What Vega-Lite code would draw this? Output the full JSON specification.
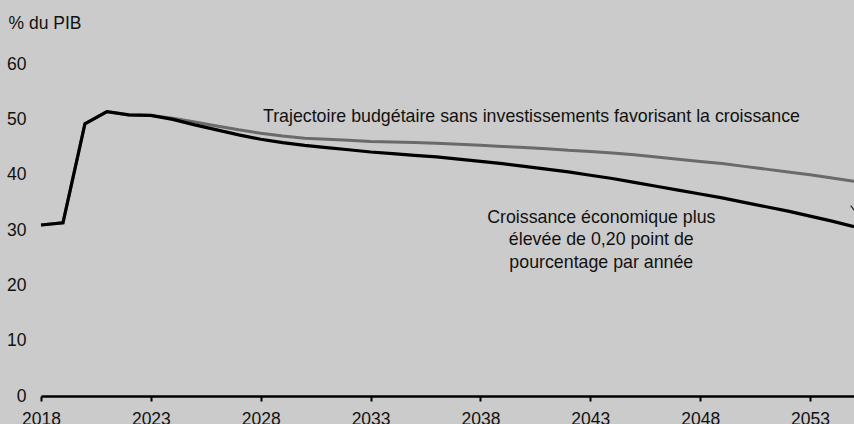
{
  "$schema": "https://vega.github.io/schema/vega-lite/v6.json",
  "width": 813,
  "height": 332,
  "autosize": {"type": "none"},
  "padding": {"left": 41, "top": 64, "right": 0, "bottom": 28},
  "background": "#cbcbcb",
  "config": {
    "view": {"stroke": null},
    "font": "Liberation Sans",
    "text": {"font": "Liberation Sans", "fontSize": 17.8, "color": "#111111"}
  },
  "datasets": {
    "lines": [
      {"year": 2018, "value": 30.9, "series": "croissance"},
      {"year": 2019, "value": 31.3, "series": "croissance"},
      {"year": 2020, "value": 49.2, "series": "croissance"},
      {"year": 2021, "value": 51.4, "series": "croissance"},
      {"year": 2022, "value": 50.8, "series": "croissance"},
      {"year": 2023, "value": 50.7, "series": "croissance"},
      {"year": 2024, "value": 50.0, "series": "croissance"},
      {"year": 2025, "value": 49.0, "series": "croissance"},
      {"year": 2026, "value": 48.1, "series": "croissance"},
      {"year": 2027, "value": 47.2, "series": "croissance"},
      {"year": 2028, "value": 46.4, "series": "croissance"},
      {"year": 2029, "value": 45.8, "series": "croissance"},
      {"year": 2030, "value": 45.3, "series": "croissance"},
      {"year": 2031, "value": 44.9, "series": "croissance"},
      {"year": 2032, "value": 44.5, "series": "croissance"},
      {"year": 2033, "value": 44.1, "series": "croissance"},
      {"year": 2034, "value": 43.8, "series": "croissance"},
      {"year": 2035, "value": 43.5, "series": "croissance"},
      {"year": 2036, "value": 43.2, "series": "croissance"},
      {"year": 2037, "value": 42.8, "series": "croissance"},
      {"year": 2038, "value": 42.4, "series": "croissance"},
      {"year": 2039, "value": 42.0, "series": "croissance"},
      {"year": 2040, "value": 41.5, "series": "croissance"},
      {"year": 2041, "value": 41.0, "series": "croissance"},
      {"year": 2042, "value": 40.5, "series": "croissance"},
      {"year": 2043, "value": 39.9, "series": "croissance"},
      {"year": 2044, "value": 39.3, "series": "croissance"},
      {"year": 2045, "value": 38.6, "series": "croissance"},
      {"year": 2046, "value": 37.9, "series": "croissance"},
      {"year": 2047, "value": 37.2, "series": "croissance"},
      {"year": 2048, "value": 36.5, "series": "croissance"},
      {"year": 2049, "value": 35.8, "series": "croissance"},
      {"year": 2050, "value": 35.0, "series": "croissance"},
      {"year": 2051, "value": 34.2, "series": "croissance"},
      {"year": 2052, "value": 33.4, "series": "croissance"},
      {"year": 2053, "value": 32.5, "series": "croissance"},
      {"year": 2054, "value": 31.6, "series": "croissance"},
      {"year": 2055, "value": 30.6, "series": "croissance"},
      {"year": 2018, "value": 30.9, "series": "sans"},
      {"year": 2019, "value": 31.3, "series": "sans"},
      {"year": 2020, "value": 49.2, "series": "sans"},
      {"year": 2021, "value": 51.4, "series": "sans"},
      {"year": 2022, "value": 50.8, "series": "sans"},
      {"year": 2023, "value": 50.7, "series": "sans"},
      {"year": 2024, "value": 50.2, "series": "sans"},
      {"year": 2025, "value": 49.5, "series": "sans"},
      {"year": 2026, "value": 48.8, "series": "sans"},
      {"year": 2027, "value": 48.1, "series": "sans"},
      {"year": 2028, "value": 47.5, "series": "sans"},
      {"year": 2029, "value": 47.0, "series": "sans"},
      {"year": 2030, "value": 46.6, "series": "sans"},
      {"year": 2031, "value": 46.4, "series": "sans"},
      {"year": 2032, "value": 46.2, "series": "sans"},
      {"year": 2033, "value": 46.0, "series": "sans"},
      {"year": 2034, "value": 45.9, "series": "sans"},
      {"year": 2035, "value": 45.8, "series": "sans"},
      {"year": 2036, "value": 45.7, "series": "sans"},
      {"year": 2037, "value": 45.5, "series": "sans"},
      {"year": 2038, "value": 45.3, "series": "sans"},
      {"year": 2039, "value": 45.1, "series": "sans"},
      {"year": 2040, "value": 44.9, "series": "sans"},
      {"year": 2041, "value": 44.7, "series": "sans"},
      {"year": 2042, "value": 44.4, "series": "sans"},
      {"year": 2043, "value": 44.2, "series": "sans"},
      {"year": 2044, "value": 43.9, "series": "sans"},
      {"year": 2045, "value": 43.6, "series": "sans"},
      {"year": 2046, "value": 43.2, "series": "sans"},
      {"year": 2047, "value": 42.8, "series": "sans"},
      {"year": 2048, "value": 42.4, "series": "sans"},
      {"year": 2049, "value": 42.0, "series": "sans"},
      {"year": 2050, "value": 41.5, "series": "sans"},
      {"year": 2051, "value": 41.0, "series": "sans"},
      {"year": 2052, "value": 40.5, "series": "sans"},
      {"year": 2053, "value": 40.0, "series": "sans"},
      {"year": 2054, "value": 39.4, "series": "sans"},
      {"year": 2055, "value": 38.8, "series": "sans"}
    ],
    "labelLeft": [
      {"year": 2028.1, "value": 50.5, "label": "Trajectoire budgétaire sans investissements favorisant la croissance"}
    ],
    "labelCenter": [
      {"year": 2043.5, "value": 32.2, "label": "Croissance économique plus"},
      {"year": 2043.5, "value": 28.15, "label": "élevée de 0,20 point de"},
      {"year": 2043.5, "value": 24.1, "label": "pourcentage par année"}
    ],
    "leader": [
      {"year": 2054.85, "value": 34.4, "year2": 2055.1, "value2": 33.1}
    ]
  },
  "layer": [
    {
      "data": {"name": "lines"},
      "transform": [{"filter": "datum.series === 'sans'"}],
      "mark": {"type": "line", "color": "#6a6a6a", "strokeWidth": 3, "clip": false},
      "encoding": {
        "x": {
          "field": "year", "type": "quantitative",
          "scale": {"domain": [2018, 2055], "nice": false, "zero": false},
          "axis": {
            "values": [2018, 2023, 2028, 2033, 2038, 2043, 2048, 2053],
            "format": "d", "title": null, "grid": false,
            "domainColor": "#000000", "domainWidth": 2.5,
            "tickColor": "#000000", "tickWidth": 2, "tickSize": 5,
            "labelPadding": 9, "labelFont": "Liberation Sans", "labelFontSize": 17.5,
            "labelColor": "#111111", "labelFlush": false, "labelOverlap": false
          }
        },
        "y": {
          "field": "value", "type": "quantitative",
          "scale": {"domain": [0, 60], "nice": false},
          "axis": {
            "values": [0, 10, 20, 30, 40, 50, 60],
            "title": "% du PIB", "titleAngle": 0, "titleAlign": "left",
            "titleBaseline": "alphabetic", "titleX": -33, "titleY": -35.7,
            "titleFont": "Liberation Sans", "titleFontSize": 17.5, "titleFontWeight": "normal",
            "titleColor": "#111111",
            "domain": false, "ticks": false, "grid": false,
            "labelPadding": 15, "labelFont": "Liberation Sans", "labelFontSize": 17.5,
            "labelColor": "#111111"
          }
        }
      }
    },
    {
      "data": {"name": "lines"},
      "transform": [{"filter": "datum.series === 'croissance'"}],
      "mark": {"type": "line", "color": "#000000", "strokeWidth": 3.2, "clip": false},
      "encoding": {
        "x": {"field": "year", "type": "quantitative"},
        "y": {"field": "value", "type": "quantitative"}
      }
    },
    {
      "data": {"name": "leader"},
      "mark": {"type": "rule", "color": "#222222", "strokeWidth": 1.2},
      "encoding": {
        "x": {"field": "year", "type": "quantitative"},
        "y": {"field": "value", "type": "quantitative"},
        "x2": {"field": "year2"},
        "y2": {"field": "value2"}
      }
    },
    {
      "data": {"name": "labelLeft"},
      "mark": {"type": "text", "baseline": "middle", "align": "left"},
      "encoding": {
        "x": {"field": "year", "type": "quantitative"},
        "y": {"field": "value", "type": "quantitative"},
        "text": {"field": "label"}
      }
    },
    {
      "data": {"name": "labelCenter"},
      "mark": {"type": "text", "baseline": "middle", "align": "center"},
      "encoding": {
        "x": {"field": "year", "type": "quantitative"},
        "y": {"field": "value", "type": "quantitative"},
        "text": {"field": "label"}
      }
    }
  ]
}
